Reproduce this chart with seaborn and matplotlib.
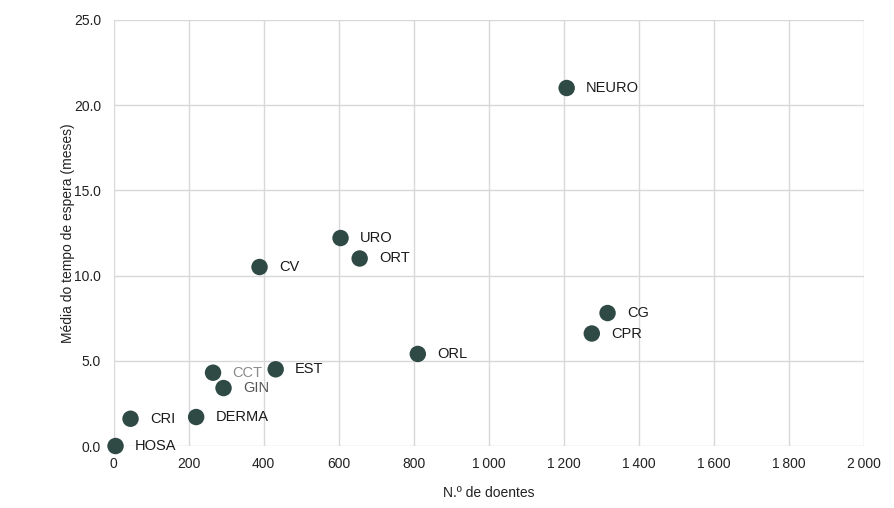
"""Waiting time vs number of patients by speciality."""

import matplotlib
matplotlib.use("Agg")
import matplotlib.pyplot as plt
import matplotlib.ticker as mticker
import pandas as pd
import seaborn as sns

specialities = ["HOSA", "CRI", "DERMA", "CCT", "GIN", "EST", "CV",
                "URO", "ORT", "ORL", "NEURO", "CG", "CPR"]
n_patients = [5, 45, 220, 265, 293, 432, 389, 605, 656, 811, 1208, 1317, 1275]
wait_months = [0.0, 1.6, 1.7, 4.3, 3.4, 4.5, 10.5, 12.2, 11.0, 5.4, 21.0, 7.8, 6.6]
label_colors = {"CCT": "#8a8a8a", "GIN": "#555555"}

df = pd.DataFrame({"spec": specialities, "n": n_patients, "wait": wait_months})

sns.set_theme(style="whitegrid")
plt.rcParams["font.family"] = ["Liberation Sans", "DejaVu Sans"]

fig = plt.figure(figsize=(8.95, 5.08), dpi=100)
ax = fig.add_axes([0.127, 0.122, 0.838, 0.839])

sns.scatterplot(data=df, x="n", y="wait", ax=ax, s=140, color="#2f4a45",
                edgecolor="none", zorder=3, clip_on=False)

for _, row in df.iterrows():
    ax.annotate(row["spec"], (row["n"], row["wait"]), xytext=(14, 0),
                textcoords="offset points", va="center", ha="left",
                fontsize=10.5, color=label_colors.get(row["spec"], "#1a1a1a"))

ax.set_xlim(0, 2000)
ax.set_ylim(0, 25)
ax.set_xticks(range(0, 2001, 200))
ax.set_yticks([0, 5, 10, 15, 20, 25])
ax.xaxis.set_major_formatter(
    mticker.FuncFormatter(lambda v, _: f"{int(v):,}".replace(",", "\u2009")))
ax.yaxis.set_major_formatter(mticker.FormatStrFormatter("%.1f"))
ax.tick_params(labelsize=10, colors="#222222")
ax.tick_params(axis="x", pad=2)
ax.tick_params(axis="y", pad=3)
ax.grid(color="#d8d8d8", linewidth=1)
for s in ax.spines.values():
    s.set_visible(False)
ax.set_xlabel("N.º de doentes", fontsize=10, color="#222222", labelpad=11)
ax.set_ylabel("Média do tempo de espera (meses)", fontsize=10,
              color="#222222", labelpad=-1)

plt.savefig("out.png", dpi=100)
plt.close(fig)
